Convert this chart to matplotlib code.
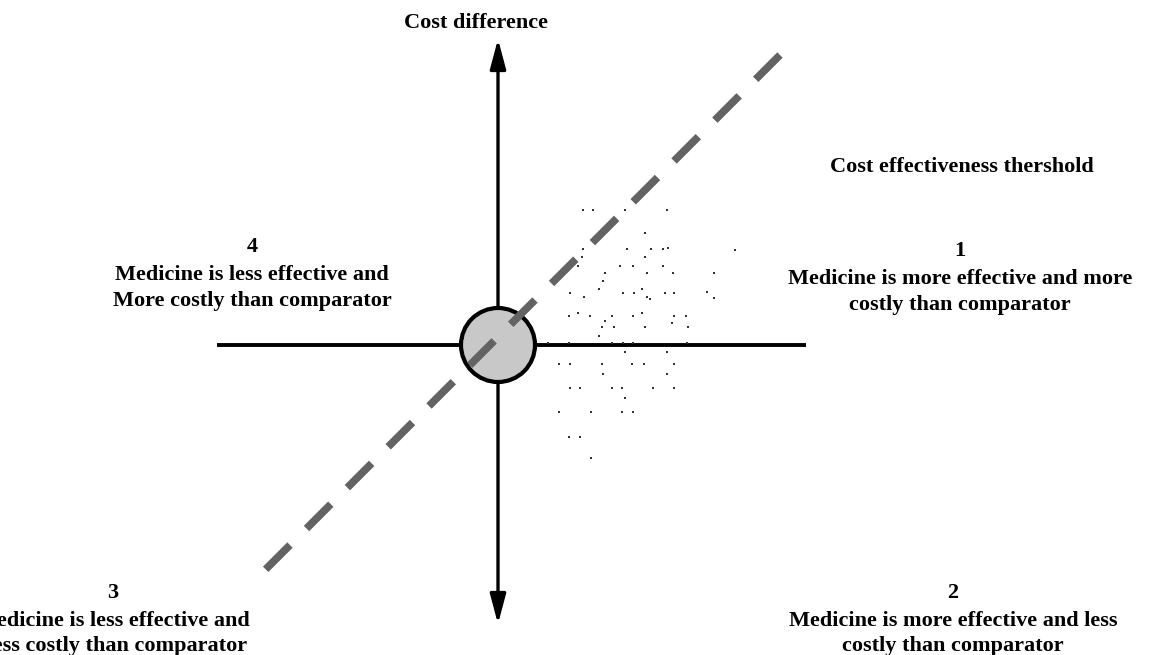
import matplotlib
matplotlib.use("Agg")
import matplotlib.pyplot as plt
from matplotlib.patches import Circle, FancyArrowPatch

# simulated ICER points (incremental effect, incremental cost)
eff = [8.5, 9.5, 12.7, 16.9, 10.5, 14.7, 8.5, 12.9, 15.3, 16.5, 17.0, 23.7,
       8.4, 14.7, 8.0, 12.2, 13.5, 16.5, 10.7, 14.9, 17.5, 21.6, 10.5, 10.1,
       14.4, 7.2, 12.5, 13.6, 16.7, 17.6, 20.9, 8.6, 14.9, 15.2, 21.6, 8.0,
       14.4, 7.1, 9.2, 11.4, 13.5, 17.6, 18.8, 10.7, 17.4, 10.4, 11.6, 14.7,
       19.0, 10.1, 5.0, 7.1, 11.4, 12.5, 13.5, 18.9, 12.7, 16.9, 6.1, 7.2,
       10.4, 13.4, 14.6, 17.6, 10.5, 16.9, 7.2, 8.2, 11.4, 12.4, 15.5, 17.6,
       12.7, 6.1, 9.3, 12.4, 13.5, 7.1, 8.2, 9.3]
cost = [13.5, 13.5, 13.5, 13.5, 11.2, 11.2, 9.6, 9.6, 9.6, 9.6, 9.7, 9.5,
        8.8, 8.8, 7.9, 7.9, 7.9, 7.9, 7.2, 7.2, 7.2, 7.2, 6.4, 5.6,
        5.6, 5.2, 5.2, 5.2, 5.2, 5.2, 5.3, 4.8, 4.8, 4.6, 4.7, 3.2,
        3.2, 2.9, 2.9, 2.9, 2.9, 2.9, 2.9, 2.4, 2.2, 1.8, 1.8, 1.8,
        1.8, 0.9, 0.2, 0.2, 0.2, 0.2, 0.2, 0.2, -0.7, -0.7, -1.9, -1.9,
        -1.9, -1.9, -1.9, -1.9, -2.9, -2.9, -4.3, -4.3, -4.3, -4.3, -4.3, -4.3,
        -5.3, -6.7, -6.7, -6.7, -6.7, -9.2, -9.2, -11.3]

# threshold line end points (drawn from the top end down)
thr_x = [28.2, -23.3]
thr_y = [29.0, -22.5]

quad_num = ["1", "2", "3", "4"]
quad_txt = [
    "Medicine is more effective and more\ncostly than comparator",
    "Medicine is more effective and less\ncostly than comparator",
    "Medicine is less effective and\nLess costly than comparator",
    "Medicine is less effective and\nMore costly than comparator",
]
quad_x = [46.2, 45.5, -38.5, -24.6]
quad_y = [5.35, -28.85, -28.85, 5.75]

fig = plt.figure(figsize=(11.49, 6.55), dpi=100)
ax = fig.add_axes([0, 0, 1, 1])
ax.set_xlim(-49.8, 65.1)
ax.set_ylim(-31.0, 34.5)
ax.axis("off")

font = dict(family="Liberation Serif", weight="bold", fontsize=16, ha="center", va="center")

# axes cross
ax.plot([-28.1, 30.8], [0, 0], color="black", lw=2.8, solid_capstyle="butt", zorder=2)
arr = FancyArrowPatch((0, -27.9), (0, 30.6), arrowstyle="<|-|>,head_length=1.5,head_width=0.4",
                      mutation_scale=12, color="black", lw=2.4, shrinkA=0, shrinkB=0, zorder=2)
ax.add_patch(arr)

ax.scatter(eff, cost, s=4, marker="s", color="#333333", lw=0, zorder=3)

ax.add_patch(Circle((0, 0), 3.7, facecolor="#c8c8c8", edgecolor="black", lw=3, zorder=4))

ln, = ax.plot(thr_x, thr_y, color="#636363", lw=5.5, zorder=5)
ln.set_dashes((4.5, 3.06))

ax.text(-2.2, 32.2, "Cost difference", **font)
ax.text(46.4, 17.8, "Cost effectiveness thershold", **font)
for n, t, x, y in zip(quad_num, quad_txt, quad_x, quad_y):
    ax.text(x, y + 4.1, n, **font)
    ax.text(x, y, t, linespacing=1.4, **font)

fig.savefig("out.png", dpi=100)
